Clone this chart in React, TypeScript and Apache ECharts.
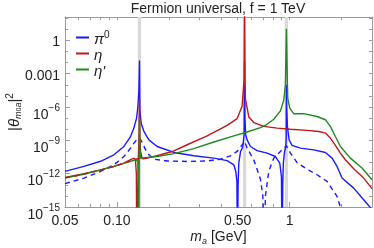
import React, { useEffect, useRef } from 'react';
import * as echarts from 'echarts';

// resonance masses (GeV): pi0, eta, eta'
const mesonMasses = [0.135, 0.548, 0.958];

// axis ticks
const xMajorTicks = [0.05, 0.1, 0.5, 1];
const xMajorLabels = ['0.05', '0.10', '0.50', '1'];
const xMinorTicks = [0.06, 0.07, 0.08, 0.09, 0.2, 0.3, 0.4, 0.6, 0.7, 0.8, 0.9, 2];
const yMajorExps = [-15, -12, -9, -6, -3, 0];
const yMinorExps = [-14, -13, -11, -10, -8, -7, -5, -4, -2, -1, 1, 2];
const xRange = [0.05, 3];
const yExpRange = [-15, 2.1];

// |theta|^2 vs m_a [GeV]
const pi0Solid: [number, number][] = [
  [0.05, 1.6e-12], [0.0644, 4.5e-12], [0.0804, 1.3e-11], [0.096, 5.0e-11],
  [0.1097, 2.8e-10], [0.1199, 2.2e-9], [0.1253, 1.26e-8], [0.1299, 1.0e-7],
  [0.1322, 1.1e-6], [0.134, 3.2e-5], [0.135, 1.5e-2], [0.1357, 5.6e-7],
  [0.1381, 3.5e-8], [0.1432, 6.3e-9], [0.153, 1.1e-9], [0.171, 2.8e-10],
  [0.2136, 8.1e-11], [0.2788, 4.1e-11], [0.364, 2.5e-11], [0.4346, 1.5e-11],
  [0.4751, 6.3e-12], [0.488, 1.5e-12], [0.495, 2e-13], [0.499, 1e-20],
  [0.503, 1e-13], [0.508, 1e-11], [0.52, 1e-10], [0.535, 2.5e-10],
  [0.5451, 3e-9], [0.548, 1.26e-2], [0.551, 1e-7], [0.556, 3.5e-9],
  [0.5674, 1.1e-9], [0.593, 2.8e-10], [0.6481, 1.2e-10], [0.7406, 7.1e-11],
  [0.8276, 3.5e-11], [0.8767, 8.9e-12], [0.8965, 5.6e-13], [0.905, 1e-20],
  [0.912, 1e-13], [0.92, 1e-11], [0.935, 1e-10], [0.95, 2.5e-10],
  [0.9555, 2e-9], [0.958, 1e-4], [0.961, 1e-6], [0.9712, 1.8e-8],
  [0.9929, 1.1e-9], [1.033, 3.5e-10], [1.155, 2.0e-10], [1.38, 1.4e-10],
  [1.612, 8.1e-11], [1.761, 2.5e-11], [1.882, 4.5e-12], [2.012, 4.0e-13],
  [2.35, 5.0e-14], [2.685, 4.5e-15], [3.0, 6.0e-16],
];

const pi0Dashed: [number, number][] = [
  [0.05, 1.26e-13], [0.0644, 4e-13], [0.0804, 1.6e-12], [0.096, 6.3e-12],
  [0.1097, 3.5e-11], [0.1199, 2e-10], [0.1253, 5.6e-10], [0.1299, 1.1e-9],
  [0.1335, 1.6e-9], [0.137, 1.2e-9], [0.14, 6.3e-10], [0.1497, 7.1e-11],
  [0.1636, 2e-11], [0.1954, 1.4e-11], [0.255, 1.26e-11], [0.333, 1.4e-11],
  [0.3977, 2e-11], [0.4544, 4e-11], [0.4966, 1e-10], [0.5192, 2.5e-10],
  [0.5379, 5e-10], [0.548, 8e-10], [0.5674, 2e-10], [0.6199, 1.8e-11],
  [0.6776, 3.2e-13], [0.7, 1e-14], [0.708, 1e-20], [0.7244, 1e-14],
  [0.7572, 1.6e-12], [0.8094, 2.5e-11], [0.8847, 1e-10], [0.9247, 2e-10],
  [0.958, 3.2e-10], [1.011, 7.1e-11], [1.105, 1e-11], [1.262, 2.5e-12],
  [1.442, 8e-13], [1.647, 2e-13], [1.882, 8.9e-15], [1.968, 1e-15], [2.05, 1e-20],
];

const etaSolid: [number, number][] = [
  [0.05, 4.5e-13], [0.0644, 1e-12], [0.0804, 2.2e-12], [0.096, 4.5e-12],
  [0.1097, 8.9e-12], [0.1199, 1.8e-11], [0.1253, 2.5e-11], [0.128, 1.6e-11],
  [0.1295, 1e-12], [0.1302, 1e-20], [0.133, 3.2e-11], [0.1343, 3.2e-9],
  [0.135, 6.3e-6], [0.1357, 3.2e-9], [0.1369, 1e-10], [0.14, 2.2e-11],
  [0.1497, 2.5e-11], [0.1788, 5e-11], [0.2136, 1.1e-10], [0.255, 4e-10],
  [0.333, 2.5e-9], [0.4346, 2.2e-8], [0.4966, 8.9e-8], [0.5307, 1.26e-6],
  [0.5451, 3.2e-4], [0.548, 1e3], [0.5513, 2e-4], [0.5549, 5e-6],
  [0.5801, 1.26e-7], [0.6199, 4e-8], [0.7084, 1.8e-8], [0.8462, 1.26e-8],
  [1.011, 1e-8], [1.262, 7.9e-9], [1.474, 6.3e-9], [1.612, 4.5e-9],
  [1.722, 1.6e-9], [1.841, 3.5e-10], [1.968, 7.1e-11], [2.103, 1.8e-11],
  [2.35, 2.8e-12], [2.685, 4e-13], [3.0, 4.5e-14],
];

const etaDashed: [number, number][] = [
  [0.05, 4.2e-13], [0.0644, 9e-13], [0.0804, 2.1e-12], [0.096, 4.5e-12],
  [0.1097, 8.9e-12], [0.1199, 1.4e-11], [0.1253, 1.8e-11], [0.13, 2.1e-11],
  [0.135, 2.3e-11], [0.14, 2.3e-11], [0.15, 2.5e-11],
];

const etaPrimeSolid: [number, number][] = [
  [0.05, 4e-13], [0.0644, 8.9e-13], [0.0804, 2.2e-12], [0.096, 4.5e-12],
  [0.1199, 1.26e-11], [0.128, 1.8e-11], [0.1322, 1.26e-11], [0.1333, 3.2e-13],
  [0.1338, 1e-20], [0.1344, 1e-12], [0.135, 1e-7], [0.1357, 3.2e-10],
  [0.1369, 2.5e-11], [0.171, 3.5e-11], [0.2136, 6.3e-11], [0.2788, 1.8e-10],
  [0.364, 7.1e-10], [0.4751, 2.5e-9], [0.5674, 5.6e-9], [0.6776, 1.4e-8],
  [0.7406, 2.8e-8], [0.8094, 7.9e-8], [0.8847, 4.5e-7], [0.9247, 4e-6],
  [0.9455, 1e-4], [0.958, 11], [0.9712, 1e-4], [0.9754, 6.3e-6],
  [1.002, 7.9e-7], [1.056, 2.5e-7], [1.207, 2.5e-7], [1.442, 1.4e-7],
  [1.612, 7.1e-8], [1.722, 1.8e-8], [1.841, 2.2e-9], [1.968, 2.8e-10],
  [2.248, 2.5e-11], [2.627, 3.2e-12], [3.0, 2.8e-13],
];

const BLUE = '#1a1aff';
const RED = '#c0181c';
const GREEN = '#1f8a1f';
const FONT = 'Liberation Sans, Arial, sans-serif';
const AXIS = '#9a9a9a';
const TXT = '#222';

const lg = (v: number) => Math.log10(v);
const toPts = (arr: [number, number][]) => arr.map(([m, v]) => [lg(m), lg(v)]);

export default function App() {
  const ref = useRef<HTMLDivElement>(null);
  useEffect(() => {
    if (!ref.current) return;
    const chart = echarts.init(ref.current, null, { renderer: 'svg' });
    const xMin = lg(xRange[0]);
    const xMax = lg(xRange[1]);
    const xAll = [...xMajorTicks, ...xMinorTicks].map(lg);
    const yAll = [...yMajorExps, ...yMinorExps];
    const baseX = { type: 'value', min: xMin, max: xMax, splitLine: { show: false } };
    const baseY = { type: 'value', min: yExpRange[0], max: yExpRange[1], splitLine: { show: false } };
    const lineOn = { show: true, onZero: false, lineStyle: { color: AXIS, width: 1 } };
    const lineOff = { show: false, onZero: false };
    const supRich = {
      b: { fontSize: 14, lineHeight: 16, verticalAlign: 'bottom', color: TXT, fontFamily: FONT },
      s: { fontSize: 10, lineHeight: 27, verticalAlign: 'middle', color: TXT, fontFamily: FONT },
    };
    const lineSeries = (name: string, data: [number, number][], color: string, dashed: boolean, z: number) => ({
      name,
      type: 'line',
      data: toPts(data),
      color,
      showSymbol: false,
      symbol: 'none',
      silent: true,
      clip: true,
      z,
      lineStyle: { width: 1.4, color, type: dashed ? [5, 4] : 'solid' },
      xAxisIndex: 0,
      yAxisIndex: 0,
    });
    const option = {
      animation: false,
      textStyle: { fontFamily: FONT },
      title: {
        text: 'Fermion universal, f = 1 TeV',
        left: 218,
        textAlign: 'center',
        top: 0,
        padding: 0,
        textStyle: { fontSize: 14, fontWeight: 'normal', color: TXT, fontFamily: FONT, lineHeight: 16 },
      },
      grid: { left: 65, right: 2, top: 17, bottom: 41, containLabel: false, outerBoundsMode: 'none' },
      legend: {
        data: ['π0', 'η', "η'"],
        orient: 'vertical',
        left: 76,
        top: 29,
        padding: 0,
        itemWidth: 13,
        itemHeight: 2,
        itemGap: 1,
        icon: 'rect',
        formatter: (n: string) => (n === 'π0' ? '{i|π}{s|0}' : `{i|${n}}`),
        textStyle: {
          fontSize: 14,
          color: TXT,
          rich: {
            i: { fontSize: 15, fontStyle: 'italic', lineHeight: 17, verticalAlign: 'bottom', color: TXT, fontFamily: FONT },
            s: { fontSize: 10, lineHeight: 10, verticalAlign: 'top', color: TXT, fontFamily: FONT },
          },
        },
      },
      xAxis: [
        {
          ...baseX,
          position: 'bottom',
          axisLine: lineOn,
          axisTick: { show: true, inside: true, length: 5, customValues: xMajorTicks.map(lg), lineStyle: { color: AXIS } },
          axisLabel: {
            show: true,
            customValues: xMajorTicks.map(lg),
            fontSize: 14,
            color: TXT,
            margin: 6,
            formatter: (v: number) => {
              let best = 0;
              xMajorTicks.forEach((t, i) => {
                if (Math.abs(lg(t) - v) < Math.abs(lg(xMajorTicks[best]) - v)) best = i;
              });
              return xMajorLabels[best];
            },
          },
          name: '{i|m}{sub|a}{r| [GeV]}',
          nameLocation: 'middle',
          nameGap: 20,
          nameMoveOverlap: false,
          nameTextStyle: {
            rich: {
              i: { fontSize: 14, fontStyle: 'italic', lineHeight: 18, color: TXT, fontFamily: FONT },
              sub: { fontSize: 9, fontStyle: 'italic', lineHeight: 8, verticalAlign: 'bottom', color: TXT, fontFamily: FONT },
              r: { fontSize: 14, lineHeight: 18, color: TXT, fontFamily: FONT },
            },
          },
        },
        {
          ...baseX,
          position: 'bottom',
          axisLine: lineOff,
          axisTick: { show: true, inside: true, length: 3, customValues: xMinorTicks.map(lg), lineStyle: { color: AXIS } },
          axisLabel: { show: false },
        },
        {
          ...baseX,
          position: 'top',
          axisLine: lineOn,
          axisTick: { show: true, inside: true, length: 3, customValues: xAll, lineStyle: { color: AXIS } },
          axisLabel: { show: false },
        },
      ],
      yAxis: [
        {
          ...baseY,
          position: 'left',
          axisLine: lineOn,
          axisTick: { show: true, inside: true, length: 5, customValues: yMajorExps, lineStyle: { color: AXIS } },
          axisLabel: {
            show: true,
            customValues: yMajorExps,
            margin: 5,
            fontSize: 14,
            color: TXT,
            formatter: (v: number) => {
              const e = Math.round(v);
              if (e === 0) return '{b|1}';
              if (e === -3) return '{b|0.001}';
              return `{b|10}{s|−${-e}}`;
            },
            rich: supRich,
          },
          name: '{p||}{t|θ}{sub|m}{z|0}{sub|a}{p||}{sup|2}',
          nameLocation: 'middle',
          nameGap: 43,
          nameMoveOverlap: false,
          nameTextStyle: {
            rich: {
              p: { fontSize: 15, lineHeight: 18, color: TXT, fontFamily: FONT },
              t: { fontSize: 15, fontStyle: 'italic', lineHeight: 18, color: TXT, fontFamily: FONT },
              sub: { fontSize: 9, fontStyle: 'italic', lineHeight: 6, verticalAlign: 'bottom', color: TXT, fontFamily: FONT },
              z: { fontSize: 7, lineHeight: 14, verticalAlign: 'bottom', color: TXT, fontFamily: FONT },
              sup: { fontSize: 10, lineHeight: 8, verticalAlign: 'top', color: TXT, fontFamily: FONT },
            },
          },
        },
        {
          ...baseY,
          position: 'left',
          axisLine: lineOff,
          axisTick: { show: true, inside: true, length: 3, customValues: yMinorExps, lineStyle: { color: AXIS } },
          axisLabel: { show: false },
        },
        {
          ...baseY,
          position: 'right',
          axisLine: lineOn,
          axisTick: { show: true, inside: true, length: 3, customValues: yAll, lineStyle: { color: AXIS } },
          axisLabel: { show: false },
        },
      ],
      series: [
        {
          name: 'bands',
          type: 'line',
          data: [],
          z: 1,
          silent: true,
          xAxisIndex: 0,
          yAxisIndex: 0,
          markArea: {
            silent: true,
            itemStyle: { color: '#d9d9d9' },
            data: mesonMasses.map((m) => [{ xAxis: lg(m / 1.022) }, { xAxis: lg(m * 1.022) }]),
          },
        },
        lineSeries('π0', pi0Solid, BLUE, false, 3),
        lineSeries('π0 dashed', pi0Dashed, BLUE, true, 3),
        lineSeries('η', etaSolid, RED, false, 3),
        lineSeries("η'", etaPrimeSolid, GREEN, false, 3),
        lineSeries('η dashed', etaDashed, RED, true, 3),
      ],
    };
    chart.setOption(option as any);
    return () => chart.dispose();
  }, []);
  return <div ref={ref} style={{ position: 'fixed', left: 0, top: 0, width: 374, height: 248 }} />;
}
